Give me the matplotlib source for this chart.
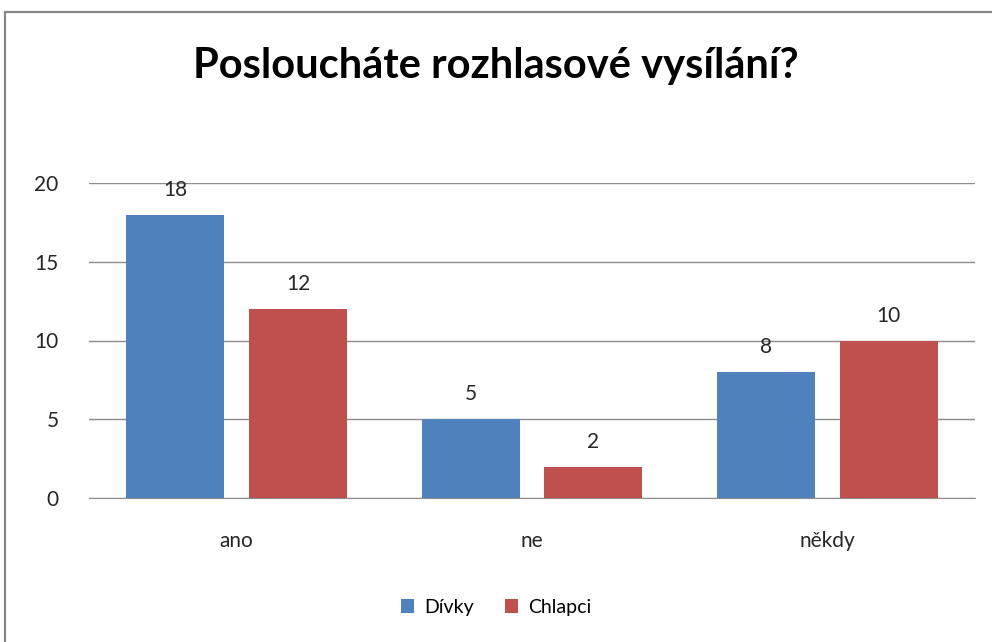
import matplotlib.pyplot as plt
import numpy as np
from matplotlib.patches import Rectangle

categories = ["ano", "ne", "někdy"]
divky = [18, 5, 8]
chlapci = [12, 2, 10]
series_names = ["Dívky", "Chlapci"]
y_ticks = [0, 5, 10, 15, 20]

plt.rcParams['font.family'] = ['Lato', 'DejaVu Sans']

fig = plt.figure(figsize=(9.92, 6.42), dpi=100)
W, H = 992, 642

# outer chart frame (only top and left edge show in the crop)
fig.patches.append(Rectangle((5 / W, -0.1), 1.2, 1 - 12 / H + 0.1,
                             transform=fig.transFigure, fill=False,
                             edgecolor='#878787', linewidth=1.6))

ax = fig.add_axes([89 / W, 1 - 498 / H, (975 - 89) / W, (498 - 183) / H])

x = np.arange(len(categories))
width = 0.332
off = 0.208
b1 = ax.bar(x - off, divky, width, color='#4F81BD', label=series_names[0])
b2 = ax.bar(x + off, chlapci, width, color='#C0504D', label=series_names[1])

for bars in (b1, b2):
    for r in bars:
        ax.text(r.get_x() + r.get_width() / 2, r.get_height() + 0.95,
                str(int(r.get_height())), ha='center', va='bottom',
                fontsize=15, color='#262626')

ax.set_xlim(-0.5, 2.5)
ax.set_ylim(0, 20)
ax.set_yticks(y_ticks)
ax.set_xticks(x)
ax.set_xticklabels(categories)
ax.grid(axis='y', color='#8c8c8c', linewidth=1)
ax.set_axisbelow(True)
for s in ['top', 'right', 'left']:
    ax.spines[s].set_visible(False)
ax.spines['bottom'].set_color('#8c8c8c')
ax.tick_params(length=0, labelsize=15, colors='#262626')
ax.tick_params(axis='y', pad=22)
ax.tick_params(axis='x', pad=24)

fig.text(0.5, 1 - 66 / H, "Posloucháte rozhlasové vysílání?",
         ha='center', va='center', fontsize=30, fontweight='bold', color='black')

fig.legend(handles=[b1, b2], loc='center', bbox_to_anchor=(0.5, 1 - 607 / H),
           ncol=2, frameon=False, fontsize=14, handlelength=0.7, handleheight=0.7,
           handletextpad=0.5, columnspacing=1.6)

plt.savefig("out.png", dpi=100)
